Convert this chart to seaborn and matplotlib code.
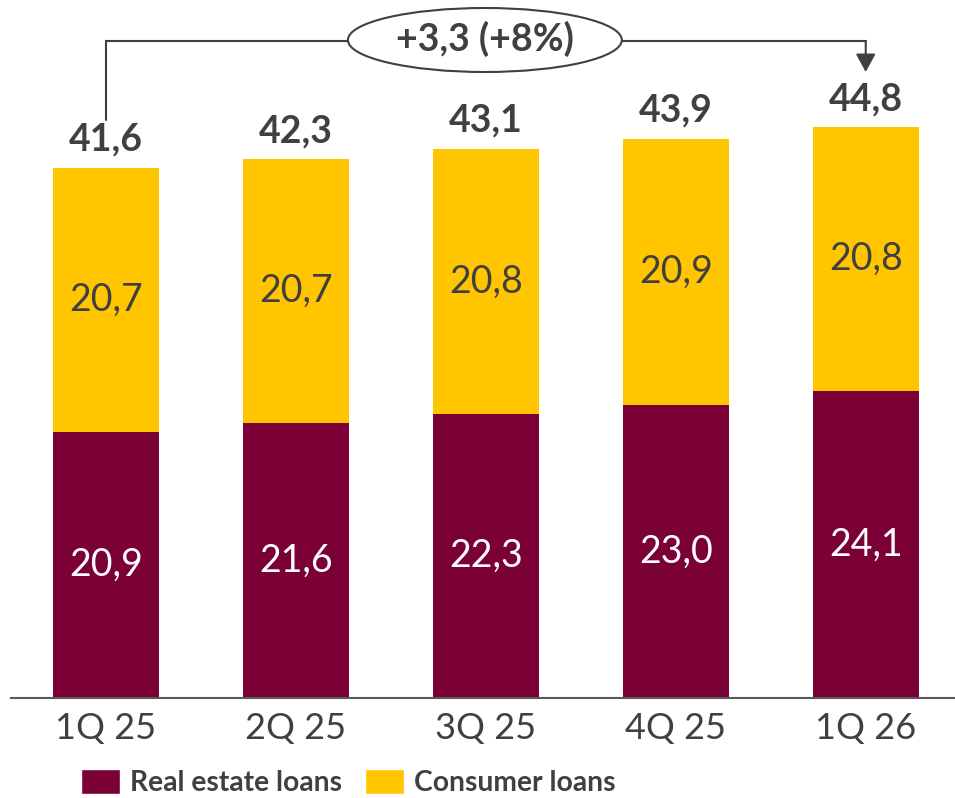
import matplotlib
matplotlib.use("Agg")
import matplotlib.pyplot as plt
from matplotlib.patches import Ellipse, Patch
import seaborn as sns
import pandas as pd

quarters = ["1Q 25", "2Q 25", "3Q 25", "4Q 25", "1Q 26"]
real_estate = [20.9, 21.6, 22.3, 23.0, 24.1]
consumer = [20.7, 20.7, 20.8, 20.9, 20.8]
totals = [41.6, 42.3, 43.1, 43.9, 44.8]
change_label = "+3,3 (+8%)"
legend_labels = ["Real estate loans", "Consumer loans"]

MAROON = "#7A0036"
YELLOW = "#FFC600"
DARK = "#404040"

sns.set_theme(style="white")
plt.rcParams["font.family"] = ["Lato", "DejaVu Sans"]

df = pd.DataFrame({"quarter": quarters, "real": real_estate,
                   "consumer": consumer, "total": totals})

fig = plt.figure(figsize=(9.55, 7.98), dpi=100)
ax = fig.add_axes([11/955, 100/798, 944/955, 698/798])

sns.barplot(data=df, x="quarter", y="total", color=YELLOW, width=0.558,
            saturation=1, ax=ax, linewidth=0)
sns.barplot(data=df, x="quarter", y="real", color=MAROON, width=0.558,
            saturation=1, ax=ax, linewidth=0)

ax.set_xlim(-0.5, 4.47)
ax.set_ylim(0, 698/12.74)

def fmt(v):
    return f"{v:.1f}".replace(".", ",")

for i in range(len(quarters)):
    r = real_estate[i]
    t = totals[i]
    ax.text(i, r/2, fmt(r), ha="center", va="center", color="white", fontsize=27)
    ax.text(i, (r + t)/2, fmt(consumer[i]), ha="center", va="center", color=DARK, fontsize=27)
    ax.annotate(fmt(t), (i, t), xytext=(0, 8), textcoords="offset points",
                ha="center", va="bottom", color=DARK, fontsize=27, fontweight="bold")

# bracket
y_top = (698 - 41) / 12.74
y_left = (698 - 120) / 12.74
y_tip = (698 - 72) / 12.74
ax.plot([0, 0, 4], [y_left, y_top, y_top], color=DARK, lw=1.5, clip_on=False,
        solid_joinstyle="miter")
ax.annotate("", xy=(4, y_tip), xytext=(4, y_top),
            arrowprops=dict(arrowstyle="-|>,head_length=0.55,head_width=0.3",
                            mutation_scale=20, color=DARK, lw=1.5,
                            shrinkA=0, shrinkB=0), annotation_clip=False)
ex = (485 - 106) / 190
ey = (698 - 40) / 12.74
ell = Ellipse((ex, ey), width=274/190, height=64/12.74, facecolor="white",
              edgecolor=DARK, lw=1.5, clip_on=False, zorder=5)
ax.add_patch(ell)
ax.text(ex, ey + 0.1, change_label, ha="center", va="center", color=DARK,
        fontsize=27, fontweight="bold", zorder=6)

ax.set_xlabel("")
ax.set_ylabel("")
ax.set_yticks([])
ax.tick_params(axis="x", length=0, pad=10, labelsize=26, labelcolor=DARK)
for s in ["top", "right", "left"]:
    ax.spines[s].set_visible(False)
ax.spines["bottom"].set_color("#595959")
ax.spines["bottom"].set_linewidth(1.5)

handles = [Patch(facecolor=MAROON), Patch(facecolor=YELLOW)]
fig.legend(handles, legend_labels, loc="lower left",
           bbox_to_anchor=(81/955, 0.002), ncol=2, frameon=False,
           borderpad=0, borderaxespad=0, handlelength=1.38, handleheight=1.0,
           handletextpad=0.35, columnspacing=0.82,
           prop={"size": 20.3, "weight": "bold"}, labelcolor=DARK)

fig.savefig("out.png", dpi=100)
